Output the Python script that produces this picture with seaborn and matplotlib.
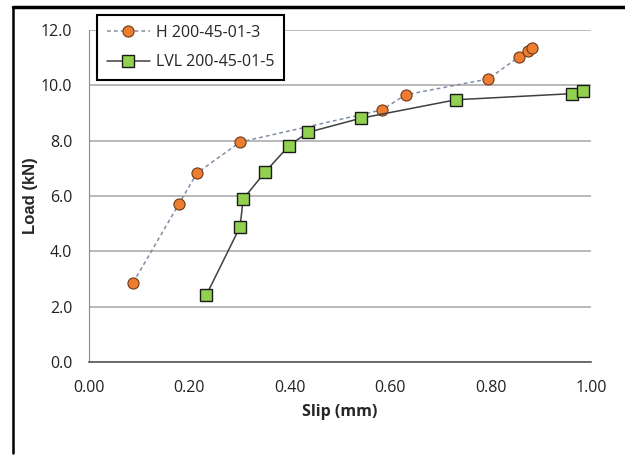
import matplotlib
matplotlib.use('Agg')
import matplotlib.pyplot as plt
import seaborn as sns
import pandas as pd
from matplotlib.lines import Line2D

# Load-slip data
h_slip = [0.088, 0.179, 0.215, 0.301, 0.583, 0.631, 0.795, 0.856, 0.874, 0.882]
h_load = [2.87, 5.71, 6.83, 7.95, 9.11, 9.66, 10.23, 11.02, 11.24, 11.36]
lvl_slip = [0.234, 0.301, 0.307, 0.351, 0.398, 0.436, 0.541, 0.731, 0.962, 0.985]
lvl_load = [2.43, 4.89, 5.89, 6.87, 7.81, 8.30, 8.81, 9.48, 9.70, 9.80]
series_names = ['H 200-45-01-3', 'LVL 200-45-01-5']
x_ticks = [0.0, 0.2, 0.4, 0.6, 0.8, 1.0]
y_ticks = [0.0, 2.0, 4.0, 6.0, 8.0, 10.0, 12.0]

sns.set_style('white')
plt.rcParams['font.family'] = ['Open Sans', 'DejaVu Sans']

fig = plt.figure(figsize=(6.25, 4.55), dpi=100)
ax = fig.add_axes([0.1424, 0.2044, 0.8032, 0.7296])

df_h = pd.DataFrame({'slip': h_slip, 'load': h_load})
df_l = pd.DataFrame({'slip': lvl_slip, 'load': lvl_load})

sns.lineplot(data=df_h, x='slip', y='load', ax=ax, sort=False, estimator=None,
             color='#7f8ea6', linestyle=(0, (2.5, 2)), linewidth=1.1,
             marker='o', markersize=8, markerfacecolor='#ed7d31',
             markeredgecolor='#6b3a1a', markeredgewidth=0.8, zorder=3)
sns.lineplot(data=df_l, x='slip', y='load', ax=ax, sort=False, estimator=None,
             color='#404040', linewidth=1.1,
             marker='s', markersize=8, markerfacecolor='#92d050',
             markeredgecolor='#1a1a1a', markeredgewidth=1.0, zorder=3)

ax.set_xlim(0, 1.0)
ax.set_ylim(0, 12.0)
ax.set_xticks(x_ticks)
ax.set_xticklabels([f'{v:.2f}' for v in x_ticks])
ax.set_yticks(y_ticks)
ax.set_yticklabels([f'{v:.1f}' for v in y_ticks])
ax.tick_params(axis='both', length=0, labelsize=11.5, colors='#222222')
ax.tick_params(axis='x', pad=13)
ax.tick_params(axis='y', pad=12)

ax.grid(axis='y', color='#a6a6a6', linewidth=1.1)
ax.set_axisbelow(True)
for s in ['top', 'right']:
    ax.spines[s].set_visible(False)
ax.spines['left'].set_color('#8c8c8c')
ax.spines['bottom'].set_color('#595959')
ax.spines['bottom'].set_linewidth(1.2)

ax.set_xlabel('Slip (mm)', fontsize=11.5, fontweight='bold', labelpad=6)
ax.set_ylabel('Load (kN)', fontsize=12, fontweight='bold', labelpad=2,
              family=['Liberation Sans', 'DejaVu Sans'])

handles = [
    Line2D([], [], color='#7f8ea6', linestyle=(0, (2.5, 2)), linewidth=1.1,
           marker='o', markersize=8, markerfacecolor='#ed7d31',
           markeredgecolor='#6b3a1a', markeredgewidth=0.8),
    Line2D([], [], color='#404040', linewidth=1.1,
           marker='s', markersize=8, markerfacecolor='#92d050',
           markeredgecolor='#1a1a1a', markeredgewidth=1.0),
]
leg = fig.legend(handles, series_names, loc='upper left',
                 bbox_to_anchor=(97 / 625, 1 - 15 / 455), fontsize=11.5,
                 frameon=True, fancybox=False, framealpha=1, edgecolor='black',
                 handlelength=2.7, borderpad=0.6, labelspacing=0.85,
                 handletextpad=0.4, borderaxespad=0)
leg.get_frame().set_linewidth(1.5)
if ax.get_legend() is not None:
    ax.get_legend().remove()

# Outer frame lines (top and left edges of the image)
fig.add_artist(Line2D([12.5 / 625, 1.0], [1 - 6.5 / 455, 1 - 6.5 / 455],
                      color='black', linewidth=2.5, transform=fig.transFigure))
fig.add_artist(Line2D([12.5 / 625, 12.5 / 625], [1 - 6.5 / 455, 0.005],
                      color='black', linewidth=1.8, transform=fig.transFigure))

fig.savefig('out.png', dpi=100)
